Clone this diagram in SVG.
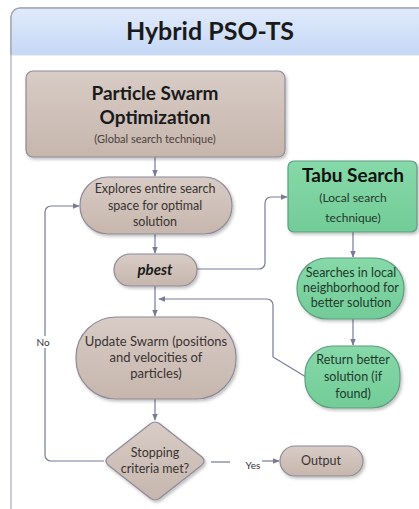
<svg xmlns="http://www.w3.org/2000/svg" width="419" height="509" viewBox="0 0 419 509">
<defs>
<linearGradient id="band" x1="0" y1="0" x2="0" y2="1">
<stop offset="0" stop-color="#e0eafb"/>
<stop offset="1" stop-color="#c6d8f6"/>
</linearGradient>
<linearGradient id="taupe" x1="0" y1="0" x2="0" y2="1">
<stop offset="0" stop-color="#d8ccc6"/>
<stop offset="1" stop-color="#c6b6ad"/>
</linearGradient>
<linearGradient id="green" x1="0" y1="0" x2="0" y2="1">
<stop offset="0" stop-color="#86d9a8"/>
<stop offset="1" stop-color="#72cc98"/>
</linearGradient>
<filter id="sh" x="-10%" y="-10%" width="125%" height="130%">
<feDropShadow dx="1.5" dy="2" stdDeviation="1.5" flood-color="#000" flood-opacity="0.25"/>
</filter>
<marker id="ar" viewBox="0 0 10 10" refX="9" refY="5" markerWidth="7" markerHeight="7" orient="auto" markerUnits="userSpaceOnUse">
<path d="M0,1 L10,5 L0,9 z" fill="#767b98"/>
</marker>
</defs>
<style>
text{font-family:Lato,"Open Sans","Liberation Sans",sans-serif;fill:#1a1a1a;text-anchor:middle}
.t{fill:url(#taupe);stroke:#8e8a98;stroke-width:1.2;filter:url(#sh)}
.g{fill:url(#green);stroke:#5f9c80;stroke-width:1.2;filter:url(#sh)}
.c{fill:none;stroke:#767b98;stroke-width:1.2}
.s{font-size:12.5px;fill:#3a3330}
.sg{font-size:12.5px;fill:#1f3a2c}
.lbl{font-size:10px;fill:#333}
</style>
<rect x="0" y="0" width="419" height="509" fill="#fff"/>
<g id="frame">
<rect x="11" y="8" width="430" height="510" rx="9" fill="#fff" stroke="#a9adb8" stroke-width="1.2"/>
<path d="M11,55 V17 a9,9 0 0 1 9,-9 H430 V55 Z" fill="url(#band)"/>
<line x1="11" y1="55" x2="419" y2="55" stroke="#d3dbe6" stroke-width="1"/>
<path d="M11,55 V17 a9,9 0 0 1 9,-9 H430" fill="none" stroke="#a2a6b2" stroke-width="1.4"/>
<text x="210" y="40" style="font-size:25px;font-weight:700;fill:#1a1a1a">Hybrid PSO-TS</text>
</g>
<g id="connectors">
<line class="c" x1="155" y1="157" x2="155" y2="176" marker-end="url(#ar)"/>
<line class="c" x1="155" y1="234" x2="155" y2="253" marker-end="url(#ar)"/>
<line class="c" x1="155" y1="286" x2="155" y2="316" marker-end="url(#ar)"/>
<line class="c" x1="155" y1="399" x2="155" y2="420" marker-end="url(#ar)"/>
<path class="c" d="M197,269 H259 a6,6 0 0 0 6,-6 V203 a6,6 0 0 1 6,-6 H287" marker-end="url(#ar)"/>
<line class="c" x1="353" y1="232" x2="353" y2="257" marker-end="url(#ar)"/>
<line class="c" x1="353" y1="319" x2="353" y2="345" marker-end="url(#ar)"/>
<path class="c" d="M306,377 L273,357 V305 a6,6 0 0 0 -6,-6 H159" marker-end="url(#ar)"/>
<path class="c" d="M104,461 H51 a6,6 0 0 1 -6,-6 V212 a6,6 0 0 1 6,-6 H79" marker-end="url(#ar)"/>
<line class="c" x1="211" y1="462" x2="230" y2="462"/>
<line class="c" x1="262" y1="461" x2="279" y2="461" marker-end="url(#ar)"/>
<rect x="35" y="336" width="16" height="12" fill="#fff"/>
<text class="lbl" x="43" y="346">No</text>
<text class="lbl" x="253" y="469">Yes</text>
</g>
<g id="pso">
<rect class="t" x="26" y="71" width="259" height="86" rx="7"/>
<text x="155" y="100" style="font-size:19px;font-weight:700">Particle Swarm</text>
<text x="155" y="124" style="font-size:19px;font-weight:700">Optimization</text>
<text x="155" y="143" style="font-size:11px;fill:#4a403c">(Global search technique)</text>
</g>
<g id="explores">
<rect class="t" x="80" y="177" width="152" height="57" rx="28"/>
<text class="s" x="155" y="193">Explores entire search</text>
<text class="s" x="155" y="210">space for optimal</text>
<text class="s" x="155" y="226">solution</text>
</g>
<g id="pbest">
<rect class="t" x="114" y="254" width="83" height="32" rx="16"/>
<text x="155" y="275" style="font-size:15px;font-weight:700;font-style:italic">pbest</text>
</g>
<g id="update">
<rect class="t" x="76" y="317" width="160" height="82" rx="40"/>
<text class="s" x="156" y="346" style="font-size:13px">Update Swarm (positions</text>
<text class="s" x="156" y="362" style="font-size:13px">and velocities of</text>
<text class="s" x="156" y="378" style="font-size:13px">particles)</text>
</g>
<g id="stopping">
<path class="t" d="M150,424 Q155,420 160,424 L202,457 Q206,461 202,465 L160,498 Q155,502 150,498 L108,465 Q104,461 108,457 Z"/>
<text class="s" x="155" y="457">Stopping</text>
<text class="s" x="155" y="473">criteria met?</text>
</g>
<g id="output">
<rect class="t" x="280" y="446" width="83" height="30" rx="15"/>
<text class="s" x="321" y="465">Output</text>
</g>
<g id="tabu">
<rect class="g" x="288" y="161" width="129" height="71" rx="6"/>
<text x="353" y="182" style="font-size:19px;font-weight:700;fill:#111">Tabu Search</text>
<text class="sg" x="353" y="202" style="font-size:12px">(Local search</text>
<text class="sg" x="353" y="222" style="font-size:12px">technique)</text>
</g>
<g id="searches">
<rect class="g" x="297" y="258" width="107" height="61" rx="30"/>
<text class="sg" x="351" y="277">Searches in local</text>
<text class="sg" x="351" y="292">neighborhood for</text>
<text class="sg" x="351" y="307">better solution</text>
</g>
<g id="return">
<rect class="g" x="305" y="346" width="95" height="62" rx="28"/>
<text class="sg" x="353" y="364">Return better</text>
<text class="sg" x="353" y="381">solution (if</text>
<text class="sg" x="353" y="398">found)</text>
</g>
</svg>
